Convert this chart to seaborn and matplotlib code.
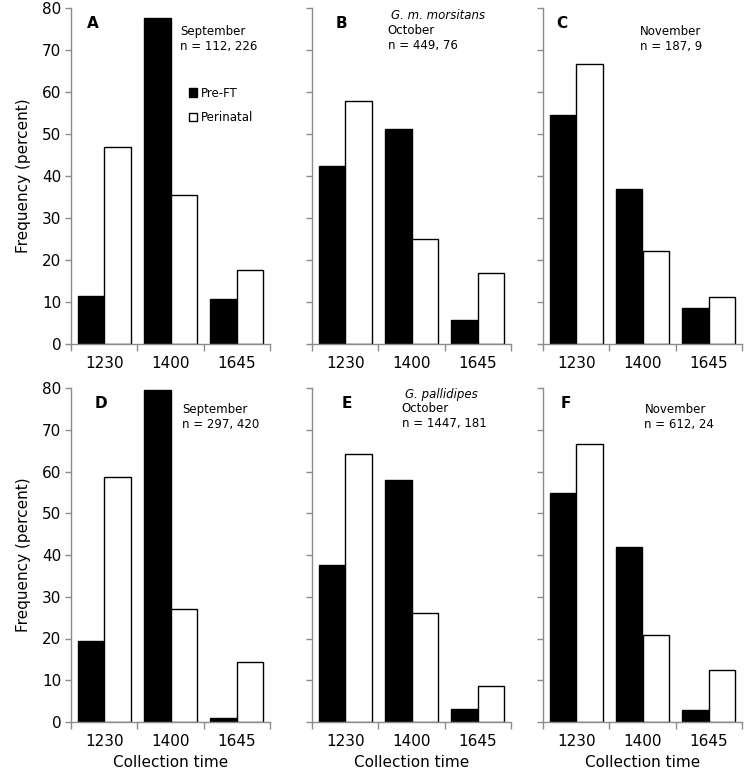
import numpy as np
import pandas as pd
import matplotlib
matplotlib.use("Agg")
import matplotlib.pyplot as plt
import seaborn as sns

# ------------------------------------------------------------------
# Data
# ------------------------------------------------------------------
times = ["1230", "1400", "1645"]
stages = ["Pre-FT", "Perinatal"]

pre_a = [11.5, 77.6, 10.6]
peri_a = [47.0, 35.4, 17.7]
pre_b = [42.5, 51.1, 5.8]
peri_b = [57.9, 24.9, 17.0]
pre_c = [54.5, 36.9, 8.5]
peri_c = [66.7, 22.2, 11.1]
pre_d = [19.5, 79.5, 1.0]
peri_d = [58.6, 27.1, 14.3]
pre_e = [37.7, 58.0, 3.2]
peri_e = [64.3, 26.1, 8.6]
pre_f = [54.8, 42.0, 2.8]
peri_f = [66.7, 20.8, 12.5]

letters = ["A", "B", "C", "D", "E", "F"]
species = ["", "G. m. morsitans", "", "", "G. pallidipes", ""]
months = ["September", "October", "November", "September", "October", "November"]
counts = ["n = 112, 226", "n = 449, 76", "n = 187, 9",
          "n = 297, 420", "n = 1447, 181", "n = 612, 24"]

panels = [(pre_a, peri_a), (pre_b, peri_b), (pre_c, peri_c),
          (pre_d, peri_d), (pre_e, peri_e), (pre_f, peri_f)]

sns.set_theme(style="white")
plt.rcParams["font.family"] = ["DejaVu Sans"]
plt.rcParams["text.color"] = "black"
plt.rcParams["axes.labelcolor"] = "black"

fig = plt.figure(figsize=(7.45, 7.72), dpi=100)

lefts = [71, 312, 543]
width_px = 199
rows = [(8, 344), (388, 722)]  # (top, bottom) in pixels
W, H = 745.0, 772.0

# text positions (axes fraction)
letter_x = [0.08, 0.12, 0.065, 0.12, 0.15, 0.09]
text_x = [0.55, 0.38, 0.485, 0.56, 0.45, 0.51]
grey = "#8c8c8c"

for i, (pre, peri) in enumerate(panels):
    r, c = divmod(i, 3)
    top, bot = rows[r]
    ax = fig.add_axes([lefts[c] / W, 1 - bot / H, width_px / W, (bot - top) / H])

    df = pd.DataFrame({
        "time": times * 2,
        "stage": [stages[0]] * 3 + [stages[1]] * 3,
        "pct": list(pre) + list(peri),
    })
    sns.barplot(data=df, x="time", y="pct", hue="stage", order=times,
                hue_order=stages, palette=["black", "white"],
                edgecolor="black", linewidth=1.0, width=0.8,
                legend=(i == 0), ax=ax)

    ax.set_ylim(0, 80)
    ax.set_xlim(-0.5, 2.5)
    ax.set_yticks(np.arange(0, 81, 10))
    ax.set_xticks([-0.5, 0.5, 1.5, 2.5])
    ax.set_xticklabels([])
    ax.set_xticks([0, 1, 2], minor=True)
    ax.set_xticklabels(times, minor=True, fontsize=11)
    ax.tick_params(axis="x", which="major", bottom=True, length=5, width=1,
                   color=grey, direction="out")
    ax.tick_params(axis="x", which="minor", bottom=True, length=0, pad=9,
                   labelcolor="black")
    ax.tick_params(axis="y", left=True, length=4, width=1, color=grey,
                   direction="out", labelsize=11, pad=3, labelcolor="black")
    for s in ["top", "right"]:
        ax.spines[s].set_visible(False)
    for s in ["left", "bottom"]:
        ax.spines[s].set_color(grey)
        ax.spines[s].set_linewidth(1.0)

    if c == 0:
        ax.set_ylabel("Frequency (percent)", fontsize=11, labelpad=8)
    else:
        ax.set_ylabel("")
        ax.set_yticklabels([])
    if r == 1:
        ax.set_xlabel("Collection time", fontsize=11, labelpad=4)
    else:
        ax.set_xlabel("")

    # panel letter
    ax.text(letter_x[i], 0.953, letters[i], transform=ax.transAxes,
            fontsize=11, fontweight="bold", va="center", ha="left")
    # annotation text
    if r == 0:
        ys = [0.979, 0.932, 0.887] if species[i] else [None, 0.930, 0.885]
    else:
        ys = [0.982, 0.940, 0.895] if species[i] else [None, 0.937, 0.892]
    if species[i]:
        ax.text(text_x[i] + 0.015, ys[0], species[i], transform=ax.transAxes,
                fontsize=8.5, style="italic", va="center", ha="left")
    ax.text(text_x[i], ys[1], months[i], transform=ax.transAxes,
            fontsize=8.5, va="center", ha="left")
    ax.text(text_x[i], ys[2], counts[i], transform=ax.transAxes,
            fontsize=8.5, va="center", ha="left")

    if i == 0:
        handles, labels = ax.get_legend_handles_labels()
        ax.legend(handles, labels, loc="upper left", bbox_to_anchor=(0.57, 0.78),
                  frameon=False, fontsize=8.5, handlelength=0.7, handleheight=0.7,
                  handletextpad=0.3, labelspacing=1.0, borderaxespad=0)

fig.savefig("out.png", dpi=100)
plt.close(fig)
